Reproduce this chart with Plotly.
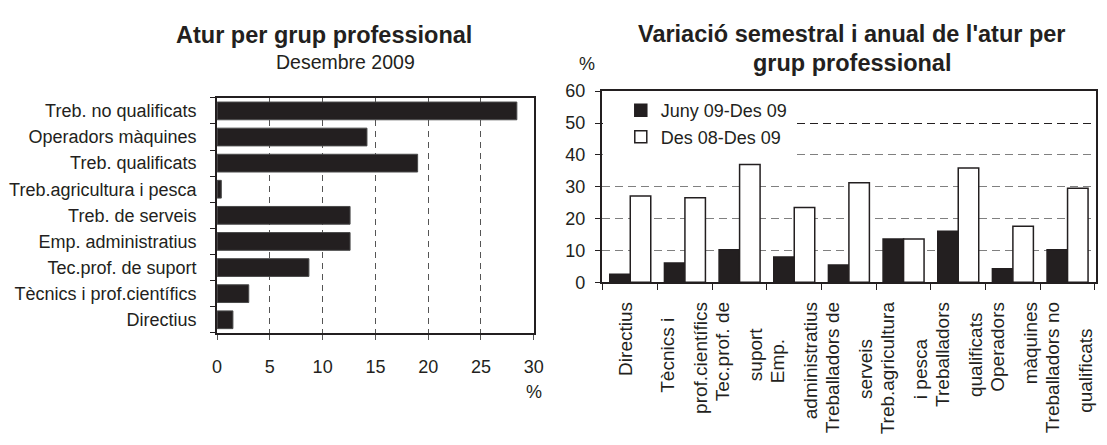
import plotly.graph_objects as go

W, H = 1107, 445

# ---------------- data ----------------
groups_left = ["Directius", "Tècnics i prof.científics", "Tec.prof. de suport",
               "Emp. administratius", "Treb. de serveis", "Treb.agricultura i pesca",
               "Treb. qualificats", "Operadors màquines", "Treb. no qualificats"]
share_dec09 = [1.5, 3.0, 8.7, 12.6, 12.6, 0.4, 19.0, 14.2, 28.4]

groups_right = ["Directius", "Tècnics i|prof.científics", "Tec.prof. de|suport",
                "Emp.|administratius", "Treballadors de|serveis", "Treb.agricultura|i pesca",
                "Treballadors|qualificats", "Operadors|màquines", "Treballadors no|qualificats"]
var_semestral = [2.5, 6.0, 10.2, 7.9, 5.4, 13.6, 16.0, 4.2, 10.2]
var_anual = [27.1, 26.5, 37.0, 23.5, 31.2, 13.6, 35.9, 17.6, 29.5]

left_x_ticks = [0, 5, 10, 15, 20, 25, 30]
right_y_ticks = [0, 10, 20, 30, 40, 50, 60]
right_dark_grid = [50]

name_sem = "Juny 09-Des 09"
name_anu = "Des 08-Des 09"

# ---------------- helpers ----------------
def px(v):
    return v / W

def py(v):
    return 1 - v / H

_EM = {}
for ch in "ijlí'": _EM[ch] = 0.222
for ch in "ft. ,": _EM[ch] = 0.278
_EM["r"] = 0.333
_EM["m"] = 0.833
for ch in "sckvxyz": _EM[ch] = 0.5

def est_w(s):
    w = 0.0
    for ch in s:
        if ch in _EM:
            w += _EM[ch]
        elif ch.isupper():
            w += 0.667
        else:
            w += 0.556
    return w

NB = "\u00a0"

def split_lines(labels):
    single, first, second = [], [], []
    for s in labels:
        lines = s.split("|")
        if len(lines) == 1:
            single.append(s); first.append(""); second.append("")
        else:
            longest = max(est_w(l) for l in lines)
            padded = [l + NB * int(round((longest - est_w(l)) / 2 / 0.278)) for l in lines]
            single.append(""); first.append(padded[0]); second.append(padded[1])
    return single, first, second

lab_single, lab_first, lab_second = split_lines(groups_right)
cat_idx = list(range(len(groups_right)))

INK = "#231f20"
FONT = "Liberation Sans, Arial, sans-serif"

fig = go.Figure()

fig.add_trace(go.Bar(
    x=share_dec09, y=groups_left, orientation="h",
    xaxis="x", yaxis="y", width=0.68, showlegend=False,
    marker=dict(color=INK, line=dict(color="#4a4a4a", width=1)),
))

fig.add_trace(go.Bar(
    x=groups_right, y=var_semestral, name=name_sem,
    xaxis="x2", yaxis="y2",
    marker=dict(color=INK, line=dict(color=INK, width=1.5)),
))
fig.add_trace(go.Bar(
    x=groups_right, y=var_anual, name=name_anu,
    xaxis="x2", yaxis="y2",
    marker=dict(color="white", line=dict(color=INK, width=1.5)),
))

# invisible carriers so the label-only overlay axes get drawn
for ax_x, ax_y in (("x3", "y2"), ("x4", "y2"), ("x5", "y2"), ("x2", "y3")):
    fig.add_trace(go.Scatter(
        x=cat_idx if ax_x != "x2" else groups_right, y=[None] * len(cat_idx),
        mode="markers", xaxis=ax_x, yaxis=ax_y, showlegend=False,
        hoverinfo="skip", marker=dict(opacity=0),
    ))

label_axis = dict(
    overlaying="x2", anchor="y2", side="bottom", type="linear",
    range=[-0.5, len(groups_right) - 0.5], tickmode="array", tickvals=cat_idx,
    tickangle=-90, ticks="", showline=False, showgrid=False, zeroline=False,
    tickfont=dict(size=19), ticklabelstandoff=15,
)

fig.update_layout(
    width=W, height=H, margin=dict(l=0, r=0, t=0, b=0),
    paper_bgcolor="white", plot_bgcolor="white",
    font=dict(family=FONT, color=INK, size=18),
    barmode="group", bargap=0.25, bargroupgap=0,
    xaxis=dict(
        domain=[px(215), px(536)], anchor="y",
        range=[0, 30], tickmode="array", tickvals=left_x_ticks,
        showgrid=True, gridcolor="#555555", griddash="6px,5px", gridwidth=1,
        showline=True, linecolor=INK, linewidth=2, mirror=True,
        ticks="outside", ticklen=5, tickcolor="#555555",
        tickfont=dict(size=18), ticklabelstandoff=12, zeroline=False,
    ),
    yaxis=dict(
        domain=[py(338), py(92)], anchor="x",
        type="category", tickson="boundaries",
        ticks="outside", ticklen=5, tickcolor=INK,
        showline=True, linecolor=INK, linewidth=2, mirror=True,
        showgrid=False, tickfont=dict(size=18), ticklabelstandoff=15,
    ),
    xaxis2=dict(
        domain=[px(605), px(1106)], anchor="y2",
        type="category", tickson="boundaries", showticklabels=False,
        ticks="outside", ticklen=6, tickcolor=INK,
        showline=True, linecolor=INK, linewidth=2, mirror=True,
        showgrid=False,
    ),
    xaxis3=dict(label_axis, ticktext=lab_single, ticklabelshift=-3),
    xaxis4=dict(label_axis, ticktext=lab_first, ticklabelshift=-16),
    xaxis5=dict(label_axis, ticktext=lab_second, ticklabelshift=17),
    yaxis2=dict(
        domain=[py(285), py(85)], anchor="x2",
        range=[0, 60], tickmode="array", tickvals=right_y_ticks,
        showgrid=True, gridcolor="#808080", griddash="8px,5px", gridwidth=1,
        showline=True, linecolor=INK, linewidth=2, mirror=True,
        ticks="outside", ticklen=5, tickcolor=INK,
        tickfont=dict(size=18), ticklabelstandoff=6, zeroline=False,
    ),
    yaxis3=dict(
        overlaying="y2", anchor="x2", side="left",
        range=[0, 60], tickmode="array", tickvals=right_dark_grid,
        showgrid=True, gridcolor=INK, griddash="8px,5px", gridwidth=1,
        showticklabels=False, ticks="", showline=False, zeroline=False,
    ),
    legend=dict(
        x=px(606), y=py(86), xanchor="left", yanchor="top",
        bgcolor="white", font=dict(size=18), tracegroupgap=0,
        indentation=18, itemwidth=30,
    ),
    annotations=[
        dict(text="<b>Atur per grup professional</b>", x=px(323), y=py(26),
             xanchor="center", yanchor="middle",
             xref="paper", yref="paper", showarrow=False, font=dict(size=23.5)),
        dict(text="Desembre 2009", x=px(345), y=py(54),
             xanchor="center", yanchor="middle",
             xref="paper", yref="paper", showarrow=False, font=dict(size=19.5)),
        dict(text="<b>Variació semestral i anual de l'atur per</b>", x=px(858), y=py(25),
             xanchor="center", yanchor="middle",
             xref="paper", yref="paper", showarrow=False, font=dict(size=23.5)),
        dict(text="<b>grup professional</b>", x=px(859), y=py(56),
             xanchor="center", yanchor="middle",
             xref="paper", yref="paper", showarrow=False, font=dict(size=23.5)),
        dict(text="%", x=px(536), y=py(400), xanchor="center", yanchor="middle",
             xref="paper", yref="paper", showarrow=False, font=dict(size=18)),
        dict(text="%", x=px(590), y=py(57), xanchor="center", yanchor="middle",
             xref="paper", yref="paper", showarrow=False, font=dict(size=18)),
    ],
)

fig.write_html("out.html", config={"displayModeBar": False},
               post_script="document.body.style.margin='0';document.body.style.overflow='hidden';")
